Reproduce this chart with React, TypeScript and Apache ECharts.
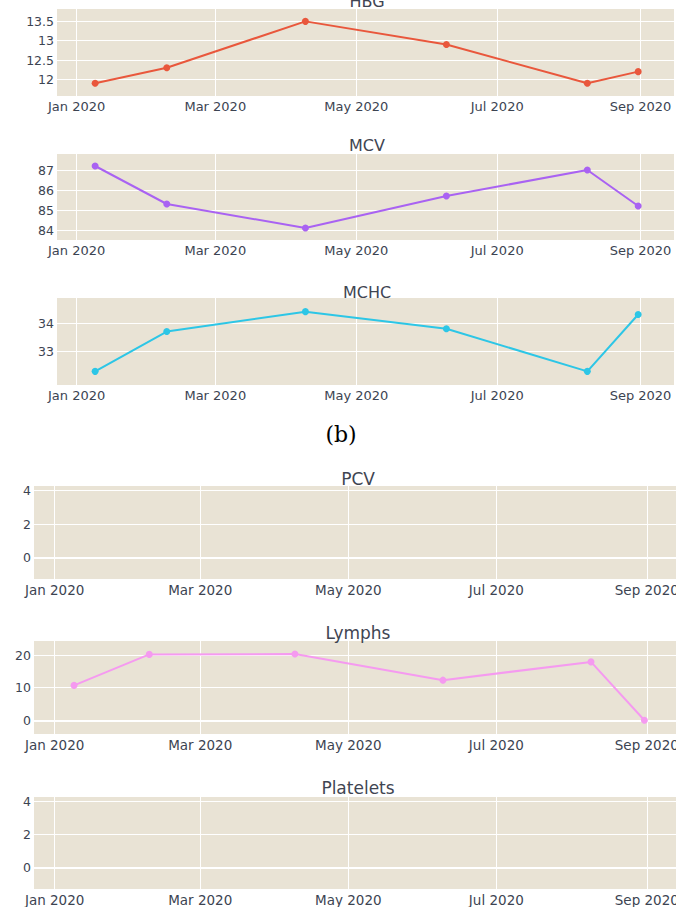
import React, { useEffect, useRef } from "react";
import * as echarts from "echarts";

// ---- data ----
const sampleDates = ["2020-01-09", "2020-02-09", "2020-04-09", "2020-06-09", "2020-08-09", "2020-08-31"];
const hbgValues = [11.9, 12.3, 13.5, 12.9, 11.9, 12.2];
const mcvValues = [87.2, 85.3, 84.1, 85.7, 87.0, 85.2];
const mchcValues = [32.3, 33.7, 34.4, 33.8, 32.3, 34.3];
const pcvValues: number[] = [];
const lymphsValues = [10.7, 20.2, 20.3, 12.3, 17.9, 0];
const plateletsValues: number[] = [];

const xTickDates = ["2020-01-01", "2020-03-01", "2020-05-01", "2020-07-01", "2020-09-01"];
const hbgTicks = [12, 12.5, 13, 13.5];
const mcvTicks = [84, 85, 86, 87];
const mchcTicks = [33, 34];
const pcvTicks = [0, 2, 4];
const lymphsTicks = [0, 10, 20];
const plateletsTicks = [0, 2, 4];

const titles = ["HBG", "MCV", "MCHC", "PCV", "Lymphs", "Platelets"];
const caption = "(b)";
const MONTHS = ["Jan", "Feb", "Mar", "Apr", "May", "Jun", "Jul", "Aug", "Sep", "Oct", "Nov", "Dec"];

// ---- helpers ----
const DAY = 86400000;
const ts = (s: string) => {
  const [y, m, d] = s.split("-").map(Number);
  return Date.UTC(y, m - 1, d);
};
const X_MIN = ts("2020-01-01") - 8.5 * DAY;
const X_MAX = ts("2020-09-01") + 14.5 * DAY;

// ---- layout (positions & styles) ----
const panels = [
  { values: hbgValues, ticks: hbgTicks, yMin: 11.57, yMax: 13.82, color: "#E9573C", grid: { left: 57, top: 9, width: 617, height: 87 }, title: { x: 367, y: 1 }, tFont: 16, xFont: 13, zero: false },
  { values: mcvValues, ticks: mcvTicks, yMin: 83.5, yMax: 87.8, color: "#A962F2", grid: { left: 57, top: 154, width: 617, height: 86 }, title: { x: 367, y: 145 }, tFont: 16, xFont: 13, zero: false },
  { values: mchcValues, ticks: mchcTicks, yMin: 31.82, yMax: 34.88, color: "#2DC6E6", grid: { left: 57, top: 298, width: 617, height: 87 }, title: { x: 367, y: 292 }, tFont: 16, xFont: 13, zero: false },
  { values: pcvValues, ticks: pcvTicks, yMin: -1.28, yMax: 4.28, color: "#636EFA", grid: { left: 34, top: 486, width: 648, height: 93 }, title: { x: 358, y: 479 }, tFont: 17, xFont: 13.5, zero: true },
  { values: lymphsValues, ticks: lymphsTicks, yMin: -4.2, yMax: 24.3, color: "#F59AF0", grid: { left: 34, top: 641, width: 648, height: 93 }, title: { x: 358, y: 633 }, tFont: 17, xFont: 13.5, zero: true },
  { values: plateletsValues, ticks: plateletsTicks, yMin: -1.28, yMax: 4.28, color: "#636EFA", grid: { left: 34, top: 797, width: 648, height: 92 }, title: { x: 358, y: 788 }, tFont: 17, xFont: 13.5, zero: true },
];

const FONT = "DejaVu Sans";
const LABEL_COLOR = "#3c4452";
const TITLE_COLOR = "#3f4552";
const PLOT_BG = "#E9E3D5";

export default function App() {
  const ref = useRef<HTMLDivElement>(null);

  useEffect(() => {
    if (!ref.current) return;
    const chart = echarts.init(ref.current, undefined, { renderer: "svg" });
    const xTicks = xTickDates.map(ts);

    const grid = panels.map((p) => ({
      ...p.grid,
      show: true,
      backgroundColor: PLOT_BG,
      borderWidth: 0,
      containLabel: false,
      outerBoundsMode: "none",
    }));

    const xAxis = panels.map((p, i) => ({
      type: "value",
      gridIndex: i,
      min: X_MIN,
      max: X_MAX,
      axisLine: { show: false },
      axisTick: { show: false, customValues: xTicks },
      splitLine: { show: true, lineStyle: { color: "#ffffff", width: 1 } },
      axisLabel: {
        customValues: xTicks,
        fontFamily: FONT,
        fontSize: p.xFont,
        color: LABEL_COLOR,
        margin: 4,
        formatter: (v: number) => {
          const d = new Date(v);
          return MONTHS[d.getUTCMonth()] + " " + d.getUTCFullYear();
        },
      },
    }));

    const yAxis = panels.map((p, i) => ({
      type: "value",
      gridIndex: i,
      min: p.yMin,
      max: p.yMax,
      axisLine: { show: false },
      axisTick: { show: false, customValues: p.ticks },
      splitLine: { show: true, lineStyle: { color: "#ffffff", width: 1 } },
      axisLabel: {
        customValues: p.ticks,
        fontFamily: FONT,
        fontSize: 12.5,
        color: LABEL_COLOR,
        margin: 3,
      },
    }));

    const series = panels.map((p, i) => ({
      type: "line",
      xAxisIndex: i,
      yAxisIndex: i,
      data: p.values.map((v, j) => [ts(sampleDates[j]), v]),
      symbol: "circle",
      symbolSize: 7,
      showSymbol: true,
      lineStyle: { color: p.color, width: 2 },
      itemStyle: { color: p.color },
      z: 3,
      markLine: p.zero
        ? {
            silent: true,
            symbol: "none",
            label: { show: false },
            lineStyle: { color: "#ffffff", width: 2, type: "solid" },
            data: [{ yAxis: 0 }],
            z: 1,
          }
        : undefined,
    }));

    const graphic: any[] = panels.map((p, i) => ({
      type: "text",
      x: p.title.x,
      y: p.title.y,
      style: {
        text: titles[i],
        fontFamily: FONT,
        fontSize: p.tFont,
        fill: TITLE_COLOR,
        align: "center",
        verticalAlign: "middle",
      },
    }));
    graphic.push({
      type: "text",
      x: 341,
      y: 434,
      style: {
        text: caption,
        fontFamily: "DejaVu Serif",
        fontSize: 22,
        fill: "#000000",
        align: "center",
        verticalAlign: "middle",
      },
    });

    chart.setOption({
      animation: false,
      backgroundColor: "#ffffff",
      grid,
      xAxis,
      yAxis,
      series,
      graphic,
    } as any);

    return () => chart.dispose();
  }, []);

  return (
    <div
      ref={ref}
      style={{ position: "absolute", left: 0, top: 0, width: 676, height: 907, background: "#fff" }}
    />
  );
}
